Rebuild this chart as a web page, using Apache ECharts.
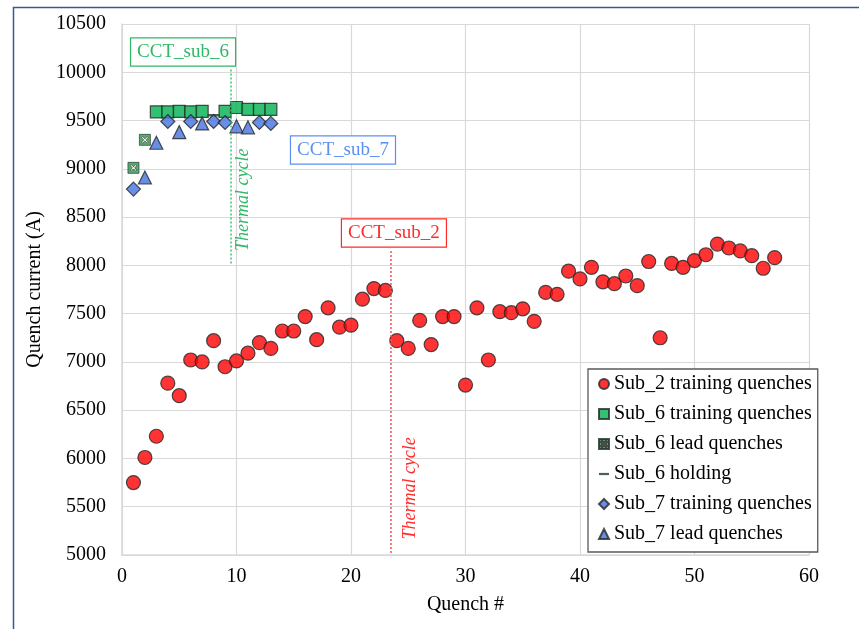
<!DOCTYPE html>
<html>
<head>
<meta charset="utf-8">
<script src="https://cdn.jsdelivr.net/npm/echarts@6/dist/echarts.min.js"></script>
<style>
  html, body { margin: 0; padding: 0; background: #fff; }
  #chart { width: 859px; height: 629px; }
</style>
</head>
<body>
<div id="chart"></div>
<script>
// quench # and current (A)
const sub2Quench = [1,2,3,4,5,6,7,8,9,10,11,12,13,14,15,16,17,18,19,20,21,22,23,24,25,26,27,28,29,30,
  31,32,33,34,35,36,37,38,39,40,41,42,43,44,45,46,47,48,49,50,51,52,53,54,55,56,57];
const sub2Current = [5750,6010,6230,6780,6650,7020,7000,7220,6950,7010,7090,7200,7140,7320,7320,7470,7230,7560,7360,7380,
  7650,7760,7740,7220,7140,7430,7180,7470,7470,6760,7560,7020,7520,7510,7550,7420,7720,7700,7940,7860,
  7980,7830,7810,7890,7790,8040,7250,8020,7980,8050,8110,8220,8180,8150,8100,7970,8080];

const sub6Quench = [3,4,5,6,7,9,10,11,12,13];
const sub6Current = [9590,9590,9595,9590,9595,9595,9635,9615,9615,9615];

const sub6LeadQuench = [1,2];
const sub6LeadCurrent = [9010,9300];

const sub6HoldQuench = [8];
const sub6HoldCurrent = [9555];

const sub7Quench = [1,4,6,8,9,12,13];
const sub7Current = [8790,9490,9490,9490,9480,9480,9470];

const sub7LeadQuench = [2,3,5,7,10,11];
const sub7LeadCurrent = [8910,9270,9380,9470,9440,9430];

const xTicks = [0,10,20,30,40,50,60];
const yTicks = [5000,5500,6000,6500,7000,7500,8000,8500,9000,9500,10000,10500];

const pairs = (xs, ys) => xs.map((x, i) => [x, ys[i]]);

const serif = 'Liberation Serif';
const edge = '#262626';
const leadPath = 'path://M0,0 L10,0 L10,10 L0,10 Z M2,3 L4,5 L2,7 L3,8 L5,6 L7,8 L8,7 L6,5 L8,3 L7,2 L5,4 L3,2 Z';
const dashPath = 'path://M0,0 L10,0 L10,2.2 L0,2.2 Z';

const chart = echarts.init(document.getElementById('chart'));

function boxLabel(text, color) {
  return {
    show: true, formatter: text, color: color, fontFamily: serif, fontSize: 19,
    borderColor: color, borderWidth: 1.2, padding: [5, 6, 3, 6], backgroundColor: '#fff'
  };
}
function rotLabel(color) {
  return {
    show: true, formatter: 'Thermal cycle', color: color, fontFamily: serif,
    fontStyle: 'italic', fontSize: 18, rotate: 90
  };
}

chart.setOption({
  animation: false,
  backgroundColor: '#fff',
  graphic: [{
    type: 'rect', left: 11, top: 5, z: 100, silent: true,
    shape: { x: 0, y: 0, width: 1000, height: 1000 },
    style: { fill: 'none', stroke: '#3b5a8a', lineWidth: 1.5 }
  }],
  grid: { left: 122, right: 50, top: 24, bottom: 74 },
  legend: {
    orient: 'vertical', left: 588, top: 369,
    padding: [5, 6, 8, 10], itemGap: 10, itemWidth: 10, itemHeight: 10,
    borderColor: '#595959', borderWidth: 1.3, backgroundColor: '#fff',
    textStyle: { fontFamily: serif, fontSize: 20, color: '#000' },
    data: [
      { name: 'Sub_2 training quenches' },
      { name: 'Sub_6 training quenches' },
      { name: 'Sub_6 lead quenches' },
      { name: 'Sub_6 holding', icon: dashPath },
      { name: 'Sub_7 training quenches' },
      { name: 'Sub_7 lead quenches' }
    ]
  },
  xAxis: {
    type: 'value', min: xTicks[0], max: xTicks[xTicks.length - 1], interval: 10,
    name: 'Quench #', nameLocation: 'middle', nameGap: 40,
    nameTextStyle: { fontFamily: serif, fontSize: 20, color: '#000' },
    axisLine: { lineStyle: { color: '#d9d9d9', width: 1.5 } },
    axisTick: { show: false },
    axisLabel: { fontFamily: serif, fontSize: 20, color: '#000', margin: 12 },
    splitLine: { lineStyle: { color: '#d9d9d9', width: 1.2 } }
  },
  yAxis: {
    type: 'value', min: yTicks[0], max: yTicks[yTicks.length - 1], interval: 500,
    name: 'Quench current (A)', nameLocation: 'middle', nameGap: 72,
    nameTextStyle: { fontFamily: serif, fontSize: 20, color: '#000' },
    axisLine: { show: true, lineStyle: { color: '#d9d9d9', width: 1.5 } },
    axisTick: { show: false },
    axisLabel: { fontFamily: serif, fontSize: 20, color: '#000', margin: 16, formatter: v => String(v) },
    splitLine: { lineStyle: { color: '#d9d9d9', width: 1.2 } }
  },
  series: [
    {
      name: 'Sub_2 training quenches', type: 'scatter', symbol: 'circle', symbolSize: 14,
      itemStyle: { color: '#ff0000', borderColor: edge, borderWidth: 1.2 },
      data: pairs(sub2Quench, sub2Current),
      markLine: {
        silent: true, symbol: 'none', label: { show: false },
        lineStyle: { color: '#ff5050', type: [2, 2], width: 1.5 },
        data: [[{ coord: [23.5, 8150] }, { coord: [23.5, 5000] }]]
      },
      markPoint: {
        silent: true, symbol: 'rect', symbolSize: 0,
        data: [
          { coord: [23.75, 8335], label: boxLabel('CCT_sub_2', '#ff2a2a') },
          { coord: [25.2, 5690], label: rotLabel('#ff2a2a') }
        ]
      }
    },
    {
      name: 'Sub_6 training quenches', type: 'scatter', symbol: 'rect', symbolSize: 12,
      itemStyle: { color: '#00b050', borderColor: edge, borderWidth: 1.2 },
      data: pairs(sub6Quench, sub6Current),
      markLine: {
        silent: true, symbol: 'none', label: { show: false },
        lineStyle: { color: '#3cc070', type: [2, 2], width: 1.5 },
        data: [[{ coord: [9.5, 10030] }, { coord: [9.5, 8000] }]]
      },
      markPoint: {
        silent: true, symbol: 'rect', symbolSize: 0,
        data: [
          { coord: [5.33, 10210], label: boxLabel('CCT_sub_6', '#2fb866') },
          { coord: [10.6, 8680], label: rotLabel('#2fb866') }
        ]
      }
    },
    {
      name: 'Sub_6 lead quenches', type: 'scatter', symbol: leadPath, symbolSize: 11,
      itemStyle: { color: '#2a9a4c', borderColor: edge, borderWidth: 0.8 },
      data: pairs(sub6LeadQuench, sub6LeadCurrent)
    },
    {
      name: 'Sub_6 holding', type: 'scatter', symbol: 'rect', symbolSize: [12, 2.5],
      itemStyle: { color: '#1e3d26' },
      data: pairs(sub6HoldQuench, sub6HoldCurrent)
    },
    {
      name: 'Sub_7 training quenches', type: 'scatter', symbol: 'diamond', symbolSize: 14,
      itemStyle: { color: '#4472e0', borderColor: edge, borderWidth: 1.2 },
      data: pairs(sub7Quench, sub7Current),
      markPoint: {
        silent: true, symbol: 'rect', symbolSize: 0,
        data: [{ coord: [19.3, 9195], label: boxLabel('CCT_sub_7', '#5b8ff0') }]
      }
    },
    {
      name: 'Sub_7 lead quenches', type: 'scatter', symbol: 'triangle', symbolSize: 13,
      itemStyle: { color: '#4472e0', borderColor: edge, borderWidth: 1.2 },
      data: pairs(sub7LeadQuench, sub7LeadCurrent)
    }
  ]
});
</script>
</body>
</html>
